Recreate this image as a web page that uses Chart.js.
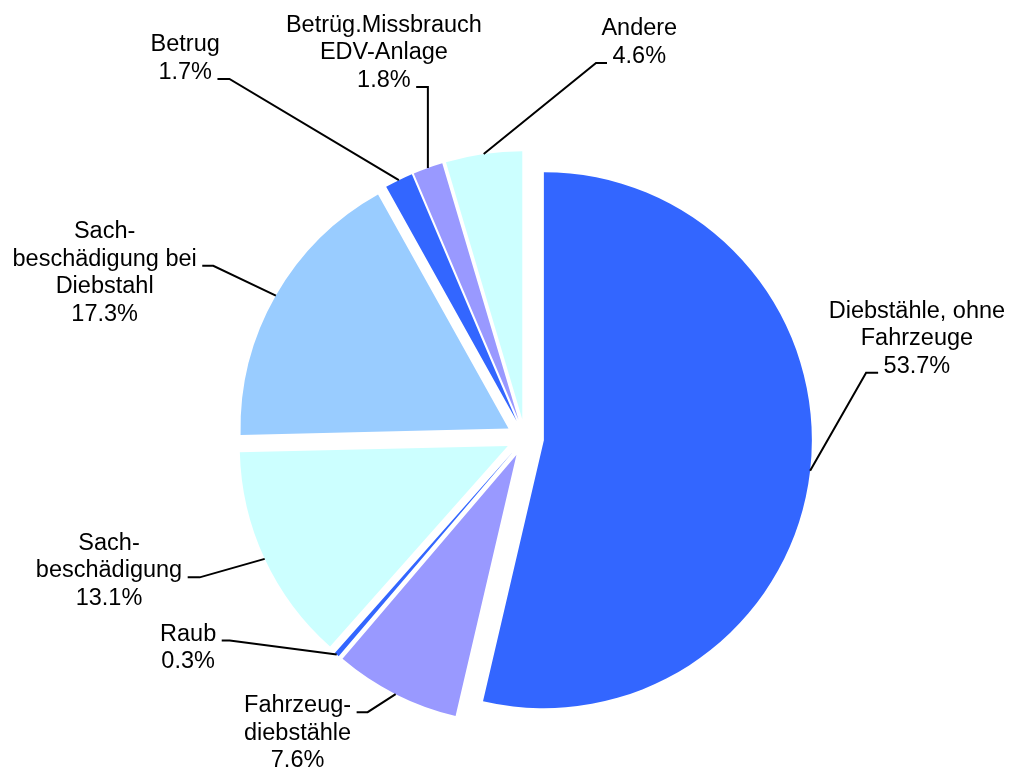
<!DOCTYPE html>
<html>
<head>
<meta charset="utf-8">
<script src="https://cdn.jsdelivr.net/npm/chart.js@4.4.1/dist/chart.umd.min.js"></script>
<style>
html,body{margin:0;padding:0;background:#ffffff;}
#wrap{width:1012px;height:772px;position:relative;}
canvas{display:block;}
</style>
</head>
<body>
<div id="wrap"><canvas id="c" width="1012" height="772"></canvas></div>
<script>
// ---- data ----
const categories = [
  ["Diebstähle, ohne", "Fahrzeuge"],
  ["Fahrzeug-", "diebstähle"],
  ["Raub"],
  ["Sach-", "beschädigung"],
  ["Sach-", "beschädigung bei", "Diebstahl"],
  ["Betrug"],
  ["Betrüg.Missbrauch", "EDV-Anlage"],
  ["Andere"]
];
const shares = [53.7, 7.6, 0.3, 13.1, 17.3, 1.7, 1.8, 4.6];
const sliceColors = ['#3366FF', '#9999FF', '#3366FF', '#CCFFFF', '#99CCFF', '#3366FF', '#9999FF', '#CCFFFF'];

// ---- label leader layout (relative to each slice's outer-edge midpoint) ----
const labelLayout = [
  {dx: 56,     dy: -98,    h: 12,    line: 2},
  {dx: -28,    dy: 18,     h: -11,   line: 0},
  {dx: -107,   dy: -14,    h: -8,    line: 0},
  {dx: -65,    dy: 18.5,   h: -12,   line: 1},
  {dx: -62.6,  dy: -29.7,  h: -11,   line: 1},
  {dx: -169.4, dy: -101.3, h: -12,   line: 1},
  {dx: 0,      dy: -81,    h: -11.7, line: 2},
  {dx: 112.3,  dy: -91,    h: 11,    line: 1}
];

const EXPLODE = 19;
const FONT = '23.5px "Liberation Sans", Arial, Helvetica, sans-serif';
const LINE_H = 27.5;
const GAP = 5.5;

const explodePlugin = {
  id: 'explodeSlices',
  beforeDatasetDraw(chart, args) {
    args.meta.data.forEach(arc => {
      if (arc._exploded) return;
      const orig = arc.draw;
      arc.draw = function (ctx) {
        const mid = (this.startAngle + this.endAngle) / 2;
        ctx.save();
        ctx.translate(Math.cos(mid) * EXPLODE, Math.sin(mid) * EXPLODE);
        orig.call(this, ctx);
        ctx.restore();
      };
      arc._exploded = true;
    });
  }
};

const labelPlugin = {
  id: 'leaderLabels',
  afterDatasetsDraw(chart) {
    const ctx = chart.ctx;
    const meta = chart.getDatasetMeta(0);
    const values = chart.data.datasets[0].data;
    ctx.save();
    ctx.font = FONT;
    ctx.fillStyle = '#000000';
    ctx.strokeStyle = '#000000';
    ctx.lineWidth = 2;
    ctx.lineJoin = 'miter';
    ctx.textBaseline = 'alphabetic';
    ctx.textAlign = 'center';
    meta.data.forEach((arc, i) => {
      const p = arc.getProps(['x', 'y', 'startAngle', 'endAngle', 'outerRadius'], true);
      const mid = (p.startAngle + p.endAngle) / 2;
      const r = p.outerRadius + EXPLODE;
      const ax = p.x + Math.cos(mid) * r;
      const ay = p.y + Math.sin(mid) * r;
      const L = labelLayout[i];
      const ex = ax + L.dx, ey = ay + L.dy;
      const hx = ex + L.h;
      ctx.beginPath();
      ctx.moveTo(ax, ay);
      ctx.lineTo(ex, ey);
      ctx.lineTo(hx, ey);
      ctx.stroke();
      const lines = chart.data.labels[i].concat([values[i].toFixed(1) + '%']);
      const w = ctx.measureText(lines[L.line]).width;
      const cxText = L.h > 0 ? hx + GAP + w / 2 : hx - GAP - w / 2;
      lines.forEach((t, k) => {
        ctx.fillText(t, cxText, ey + (k - L.line) * LINE_H);
      });
    });
    ctx.restore();
  }
};

new Chart(document.getElementById('c'), {
  type: 'pie',
  data: {
    labels: categories,
    datasets: [{
      data: shares,
      backgroundColor: sliceColors,
      borderWidth: 0,
      hoverOffset: 0
    }]
  },
  options: {
    responsive: false,
    animation: false,
    radius: 268,
    layout: {padding: {left: 38, right: 0, top: 104, bottom: 0}},
    plugins: {
      legend: {display: false},
      tooltip: {enabled: false}
    },
    events: []
  },
  plugins: [explodePlugin, labelPlugin]
});
</script>
</body>
</html>
